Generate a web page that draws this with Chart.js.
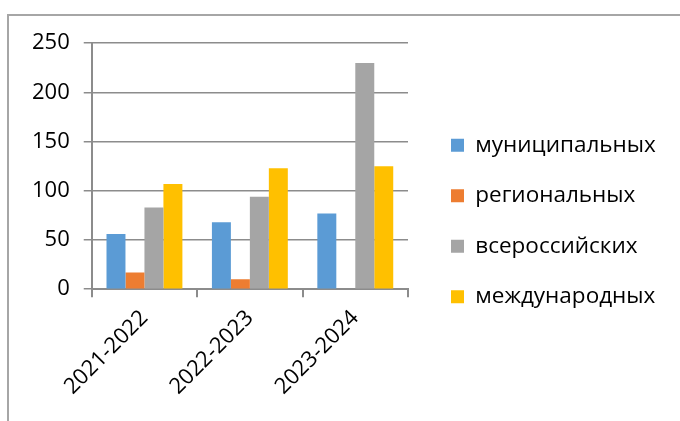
<!DOCTYPE html>
<html>
<head>
<meta charset="utf-8">
<script src="https://cdn.jsdelivr.net/npm/chart.js@4"></script>
<style>
  body { margin: 0; background: #fff; }
  #frame {
    position: absolute; left: 7px; top: 14px; width: 673px; height: 407px;
    border-top: 2px solid #a6a6a6; border-left: 2px solid #a6a6a6;
  }
</style>
</head>
<body>
<div id="frame"><canvas id="myChart" width="671" height="405"></canvas></div>
<script>
const years = ['2021-2022', '2022-2023', '2023-2024'];
const municipal = [56, 68, 77];
const regional = [17, 10, 0];
const allRussian = [83, 94, 230];
const international = [107, 123, 125];
const seriesNames = ['муниципальных', 'региональных', 'всероссийских', 'международных'];
const seriesColors = ['#5B9BD5', '#ED7D31', '#A5A5A5', '#FFC000'];

// legend sits in a fixed-width column on the right, like the Excel original
const legendColumn = {
    id: 'legendColumn',
    afterInit(chart) {
        const legend = chart.legend;
        const fit = legend.fit;
        legend.fit = function () {
            fit.call(this);
            this.width = 272;
        };
    },
    afterLayout(chart) {
        chart.legend.left += 15;
        chart.legend.top -= 1;
        chart.legend.bottom -= 1;
    }
};

window.addEventListener("load", () => {
    const ctx = document.getElementById('myChart');
    Chart.defaults.color = '#000';
    Chart.defaults.font.family = 'Open Sans';

    const allData = [municipal, regional, allRussian, international];

    new Chart(ctx, {
        type: 'bar',
        data: {
            labels: years,
            datasets: allData.map((vals, i) => ({
                label: seriesNames[i],
                data: vals,
                backgroundColor: seriesColors[i],
                categoryPercentage: 0.72,
                barPercentage: 1.0
            }))
        },
        options: {
            responsive: false,
            animation: false,
            layout: {
                padding: { top: 20, left: 9, bottom: 13, right: 0 }
            },
            scales: {
                x: {
                    grid: {
                        offset: true,
                        drawOnChartArea: false,
                        color: '#8c8c8c',
                        lineWidth: 2,
                        tickLength: 8
                    },
                    border: { color: '#8c8c8c', width: 2 },
                    ticks: {
                        font: { size: 22 },
                        minRotation: 45,
                        maxRotation: 45,
                        padding: 8
                    }
                },
                y: {
                    min: 0,
                    max: 250,
                    grid: {
                        color: '#8c8c8c',
                        lineWidth: 1.5,
                        tickLength: 8
                    },
                    border: { color: '#8c8c8c', width: 2 },
                    ticks: {
                        stepSize: 50,
                        font: { size: 22 },
                        padding: 14
                    }
                }
            },
            plugins: {
                legend: {
                    position: 'right',
                    labels: {
                        boxWidth: 13,
                        boxHeight: 13,
                        padding: 28,
                        font: { size: 22.5 }
                    }
                },
                tooltip: { enabled: false }
            }
        },
        plugins: [legendColumn]
    });
});
</script>
</body>
</html>
